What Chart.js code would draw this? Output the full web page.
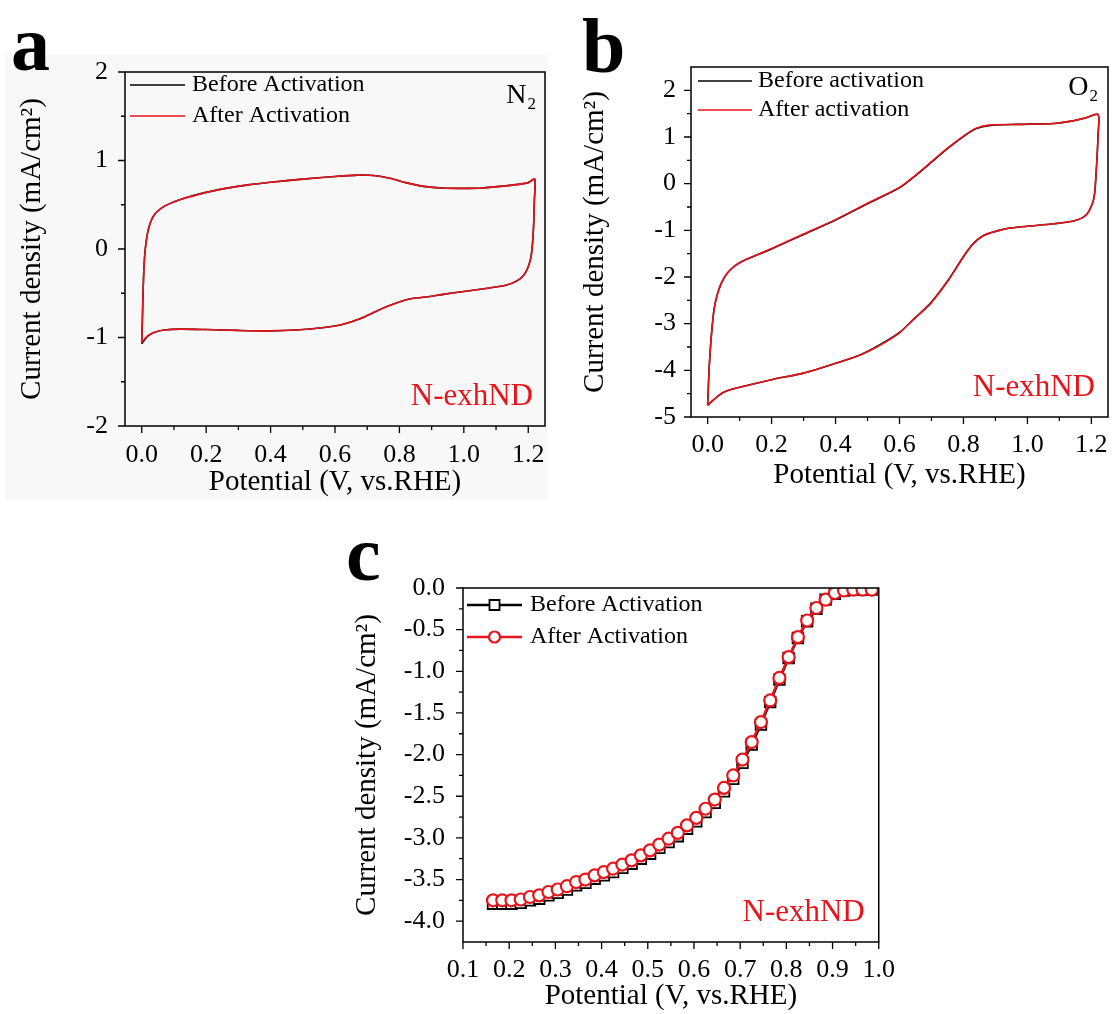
<!DOCTYPE html>
<html>
<head>
<meta charset="utf-8">
<script src="https://cdn.jsdelivr.net/npm/chart.js@4.4.1/dist/chart.umd.min.js"></script>
<style>
  body { margin: 0; background: #fff; }
  #page { position: relative; width: 1114px; height: 1014px; overflow: hidden; }
  canvas { position: absolute; }
  .tag { position: absolute; font: bold 78px 'Liberation Serif', 'Times New Roman', serif; line-height: 78px; color: #000; }
  #shadeA { position: absolute; left: 5px; top: 55px; width: 543px; height: 445px; background: #f8f8f8; }
</style>
</head>
<body>
<div id="page">
  <div id="shadeA"></div>
  <canvas id="cvN2" width="560" height="500" style="left:0;top:0"></canvas>
  <canvas id="cvO2" width="554" height="500" style="left:560px;top:0"></canvas>
  <canvas id="lsv" width="570" height="484" style="left:330px;top:530px"></canvas>
  <div class="tag" style="left:11px;top:5px">a</div>
  <div class="tag" style="left:582px;top:7px">b</div>
  <div class="tag" style="left:346px;top:515px">c</div>
</div>
<script>
// ---- panel a: CV in N2 ----
const cvN2Potential = [0.000, 0.002, 0.004, 0.007, 0.011, 0.018, 0.028, 0.042, 0.060, 0.085, 0.120, 0.160, 0.200, 0.260, 0.330, 0.400, 0.500, 0.600, 0.670, 0.720, 0.770, 0.820, 0.870, 0.930, 1.000, 1.060, 1.120, 1.170, 1.200, 1.220,
  1.219, 1.217, 1.214, 1.209, 1.200, 1.187, 1.165, 1.130, 1.080, 1.000, 0.940, 0.890, 0.830, 0.780, 0.730, 0.680, 0.620, 0.560, 0.480, 0.400, 0.300, 0.200, 0.120, 0.070, 0.040, 0.020, 0.008, 0.000];
const cvN2Before = [-1.07, -0.80, -0.50, -0.20, 0.00, 0.18, 0.31, 0.40, 0.46, 0.51, 0.56, 0.605, 0.64, 0.685, 0.725, 0.755, 0.79, 0.82, 0.835, 0.83, 0.80, 0.75, 0.71, 0.69, 0.685, 0.69, 0.71, 0.73, 0.75, 0.79,
  0.55, 0.30, 0.10, -0.08, -0.20, -0.29, -0.36, -0.41, -0.44, -0.48, -0.51, -0.54, -0.565, -0.625, -0.70, -0.785, -0.855, -0.89, -0.915, -0.925, -0.92, -0.91, -0.905, -0.915, -0.94, -0.98, -1.03, -1.07];
const cvN2After = [-1.06, -0.79, -0.50, -0.20, 0.00, 0.18, 0.31, 0.40, 0.46, 0.51, 0.56, 0.60, 0.64, 0.685, 0.725, 0.755, 0.79, 0.82, 0.835, 0.83, 0.80, 0.75, 0.71, 0.69, 0.685, 0.69, 0.71, 0.73, 0.75, 0.79,
  0.55, 0.30, 0.10, -0.08, -0.20, -0.29, -0.36, -0.41, -0.44, -0.48, -0.51, -0.54, -0.565, -0.625, -0.70, -0.785, -0.855, -0.89, -0.915, -0.925, -0.92, -0.91, -0.905, -0.915, -0.94, -0.98, -1.02, -1.06];
const cvN2XTicks = [0, 0.2, 0.4, 0.6, 0.8, 1.0, 1.2];
const cvN2XMinor = [0.1, 0.3, 0.5, 0.7, 0.9, 1.1];
const cvN2YTicks = [-2, -1, 0, 1, 2];
const cvN2YMinor = [-1.5, -0.5, 0.5, 1.5];

// ---- panel b: CV in O2 ----
const cvO2Potential = [0.000, 0.002, 0.005, 0.009, 0.013, 0.020, 0.030, 0.043, 0.060, 0.085, 0.115, 0.150, 0.200, 0.300, 0.400, 0.500, 0.600, 0.650, 0.700, 0.750, 0.800, 0.840, 0.885, 0.973, 1.083, 1.138, 1.182, 1.221,
  1.221, 1.216, 1.210, 1.203, 1.185, 1.150, 1.083, 0.973, 0.918, 0.863, 0.830, 0.800, 0.753, 0.697, 0.642, 0.598, 0.532, 0.477, 0.400, 0.300, 0.200, 0.091, 0.047, 0.014, 0.000];
const cvO2Before = [-4.75, -4.40, -3.92, -3.50, -3.15, -2.70, -2.38, -2.13, -1.93, -1.76, -1.64, -1.54, -1.40, -1.09, -0.78, -0.43, -0.09, 0.17, 0.46, 0.75, 1.01, 1.18, 1.25, 1.27, 1.29, 1.34, 1.41, 1.48,
  1.06, 0.35, -0.22, -0.43, -0.66, -0.79, -0.86, -0.93, -0.99, -1.11, -1.29, -1.56, -2.06, -2.56, -2.92, -3.20, -3.48, -3.67, -3.85, -4.06, -4.20, -4.38, -4.48, -4.66, -4.75];
const cvO2After = [-4.75, -4.40, -3.92, -3.50, -3.15, -2.70, -2.38, -2.13, -1.93, -1.76, -1.64, -1.54, -1.39, -1.08, -0.77, -0.42, -0.08, 0.18, 0.47, 0.76, 1.02, 1.19, 1.26, 1.27, 1.29, 1.34, 1.41, 1.485,
  1.06, 0.35, -0.22, -0.43, -0.66, -0.79, -0.86, -0.93, -0.99, -1.11, -1.29, -1.57, -2.07, -2.57, -2.92, -3.21, -3.49, -3.67, -3.85, -4.06, -4.20, -4.38, -4.48, -4.66, -4.75];
const cvO2XTicks = [0, 0.2, 0.4, 0.6, 0.8, 1.0, 1.2];
const cvO2XMinor = [0.1, 0.3, 0.5, 0.7, 0.9, 1.1];
const cvO2YTicks = [-5, -4, -3, -2, -1, 0, 1, 2];
const cvO2YMinor = [-4.5, -3.5, -2.5, -1.5, -0.5, 0.5, 1.5];

// ---- panel c: LSV ----
const lsvPotential = [0.155, 0.165, 0.185, 0.205, 0.225, 0.245, 0.265, 0.285, 0.305, 0.325, 0.345, 0.365, 0.385, 0.405, 0.425, 0.445, 0.465, 0.485, 0.505, 0.525, 0.545, 0.565, 0.585,
  0.605, 0.625, 0.645, 0.665, 0.685, 0.705, 0.725, 0.745, 0.765, 0.785, 0.805, 0.825, 0.845, 0.865, 0.885, 0.905, 0.925, 0.945, 0.965, 0.985, 1.000];
const lsvBefore = [-3.79, -3.79, -3.79, -3.79, -3.78, -3.75, -3.73, -3.69, -3.66, -3.62, -3.57, -3.54, -3.49, -3.45, -3.41, -3.36, -3.31, -3.25, -3.19, -3.12, -3.05, -2.98, -2.89,
  -2.80, -2.69, -2.58, -2.44, -2.29, -2.10, -1.88, -1.64, -1.37, -1.10, -0.84, -0.60, -0.40, -0.25, -0.14, -0.07, -0.03, -0.02, -0.02, -0.02, -0.01];
const lsvAfter = [-3.75, -3.75, -3.75, -3.75, -3.74, -3.71, -3.69, -3.65, -3.62, -3.58, -3.53, -3.50, -3.45, -3.41, -3.37, -3.32, -3.27, -3.21, -3.15, -3.08, -3.01, -2.94, -2.85,
  -2.76, -2.65, -2.54, -2.40, -2.25, -2.06, -1.85, -1.61, -1.35, -1.08, -0.83, -0.59, -0.39, -0.24, -0.14, -0.06, -0.03, -0.02, -0.02, -0.02, -0.01];
const lsvXTicks = [0.1, 0.2, 0.3, 0.4, 0.5, 0.6, 0.7, 0.8, 0.9, 1.0];
const lsvXMinor = [0.15, 0.25, 0.35, 0.45, 0.55, 0.65, 0.75, 0.85, 0.95];
const lsvYTicks = [0, -0.5, -1.0, -1.5, -2.0, -2.5, -3.0, -3.5, -4.0];
const lsvYMinor = [-0.25, -0.75, -1.25, -1.75, -2.25, -2.75, -3.25, -3.75];

const serif = "'Liberation Serif', 'Times New Roman', serif";
const RED = '#e8141c';
const xy = (xs, ys) => xs.map((x, i) => ({x: x, y: ys[i]}));

// frame, outward ticks, inside legend and labels
const decor = (c) => ({
  id: 'decor',
  afterDraw(chart) {
    const {ctx, chartArea: a, scales: {x, y}} = chart;
    ctx.save();
    ctx.strokeStyle = '#000';
    ctx.lineWidth = 1.5;
    ctx.strokeRect(a.left, a.top, a.right - a.left, a.bottom - a.top);
    ctx.lineWidth = 1.3;
    ctx.beginPath();
    const xt = (vals, len) => vals.forEach(v => { const p = x.getPixelForValue(v); ctx.moveTo(p, a.bottom); ctx.lineTo(p, a.bottom + len); });
    const yt = (vals, len) => vals.forEach(v => { const p = y.getPixelForValue(v); ctx.moveTo(a.left, p); ctx.lineTo(a.left - len, p); });
    xt(c.xTicks, 7); xt(c.xMinor, 4); yt(c.yTicks, 7); yt(c.yMinor, 4);
    ctx.stroke();

    // legend
    ctx.font = '24px ' + serif;
    ctx.textBaseline = 'middle';
    c.legend.forEach(item => {
      const ly = a.top + item.dy;
      ctx.strokeStyle = item.color;
      ctx.lineWidth = item.width;
      ctx.beginPath();
      ctx.moveTo(a.left + c.lx0, ly); ctx.lineTo(a.left + c.lx1, ly);
      ctx.stroke();
      if (item.marker) {
        const mx = a.left + (c.lx0 + c.lx1) / 2;
        ctx.fillStyle = '#fff';
        ctx.lineWidth = item.mw;
        ctx.beginPath();
        if (item.marker === 'circle') ctx.arc(mx, ly, 5.5, 0, Math.PI * 2);
        else ctx.rect(mx - 5, ly - 5, 10, 10);
        ctx.fill(); ctx.stroke();
      }
      ctx.fillStyle = '#000';
      ctx.textAlign = 'left';
      ctx.fillText(item.text, a.left + c.tx, ly);
    });

    // notes (gas / sample name)
    ctx.textBaseline = 'alphabetic';
    ctx.textAlign = 'left';
    c.notes.forEach(n => {
      ctx.font = n.size + 'px ' + serif;
      const w1 = ctx.measureText(n.text).width;
      let w2 = 0;
      if (n.sub) { ctx.font = Math.round(n.size * 0.62) + 'px ' + serif; w2 = ctx.measureText(n.sub).width; }
      const x0 = a.right - n.right - w1 - w2;
      const by = n.base > 0 ? a.top + n.base : a.bottom + n.base;
      ctx.fillStyle = n.color;
      ctx.font = n.size + 'px ' + serif;
      ctx.fillText(n.text, x0, by);
      if (n.sub) {
        ctx.font = Math.round(n.size * 0.62) + 'px ' + serif;
        ctx.fillText(n.sub, x0 + w1 + 1, by + 6);
      }
    });
    ctx.restore();
  }
});

const axes = (c) => ({
  x: {
    type: 'linear', position: 'bottom', min: c.xMin, max: c.xMax,
    afterBuildTicks: s => { s.ticks = c.xTicks.map(value => ({value})); },
    afterFit: s => { s.height = c.xHeight; },
    grid: {display: false}, border: {display: false},
    ticks: {font: {family: serif, size: 26}, color: '#000', padding: c.xPad, maxRotation: 0, autoSkip: false,
      callback: v => v.toFixed(1)},
    title: {display: true, text: 'Potential (V, vs.RHE)', color: '#000', font: {family: serif, size: 29},
      padding: {top: 0, bottom: c.xTitlePad}}
  },
  y: {
    type: 'linear', position: 'left', min: c.yMin, max: c.yMax,
    afterBuildTicks: s => { s.ticks = c.yTicks.map(value => ({value})); },
    afterFit: s => { s.width = c.yWidth; },
    grid: {display: false}, border: {display: false},
    ticks: {font: {family: serif, size: 26}, color: '#000', padding: c.yPad, autoSkip: false,
      callback: v => v.toFixed(c.yDec)},
    title: {display: true, text: 'Current density (mA/cm²)', color: '#000', font: {family: serif, size: 29},
      padding: {top: c.yTitlePad, bottom: 0}}
  }
});

const makeChart = (id, datasets, c) => new Chart(document.getElementById(id), {
  type: 'scatter',
  data: {datasets: datasets},
  options: {
    responsive: false, animation: false, devicePixelRatio: 1,
    layout: {padding: {left: 0, top: c.padTop, right: c.padRight, bottom: 0}},
    plugins: {legend: {display: false}, tooltip: {enabled: false}},
    scales: axes(c)
  },
  plugins: [decor(c)]
});

const cvLine = (label, pts, color, order) => ({
  label: label, data: pts, showLine: true, borderColor: color, borderWidth: 1.6,
  pointRadius: 0, tension: 0.25, order: order
});

makeChart('cvN2', [
  cvLine('Before Activation', xy(cvN2Potential, cvN2Before), '#000', 1),
  cvLine('After Activation', xy(cvN2Potential, cvN2After), RED, 0)
], {
  xMin: -0.052, xMax: 1.252, yMin: -2, yMax: 2,
  xTicks: cvN2XTicks, xMinor: cvN2XMinor, yTicks: cvN2YTicks, yMinor: cvN2YMinor, yDec: 0,
  padTop: 72, padRight: 15, xHeight: 74, yWidth: 125,
  xPad: 6, yPad: 9, xTitlePad: 0, yTitlePad: 15,
  lx0: 5, lx1: 60, tx: 67,
  legend: [
    {text: 'Before Activation', color: '#000', width: 1.6, dy: 13},
    {text: 'After Activation', color: RED, width: 1.6, dy: 44}
  ],
  notes: [
    {text: 'N', sub: '2', color: '#000', size: 28, right: 10, base: 31},
    {text: 'N-exhND', color: RED, size: 31, right: 12, base: -21}
  ]
});

makeChart('cvO2', [
  cvLine('Before activation', xy(cvO2Potential, cvO2Before), '#000', 1),
  cvLine('After activation', xy(cvO2Potential, cvO2After), RED, 0)
], {
  xMin: -0.052, xMax: 1.252, yMin: -5, yMax: 2.5,
  xTicks: cvO2XTicks, xMinor: cvO2XMinor, yTicks: cvO2YTicks, yMinor: cvO2YMinor, yDec: 0,
  padTop: 67, padRight: 6, xHeight: 83, yWidth: 131,
  xPad: 5, yPad: 7, xTitlePad: 7, yTitlePad: 18,
  lx0: 7, lx1: 61, tx: 67,
  legend: [
    {text: 'Before activation', color: '#000', width: 1.6, dy: 14},
    {text: 'After activation', color: RED, width: 1.6, dy: 43}
  ],
  notes: [
    {text: 'O', sub: '2', color: '#000', size: 28, right: 11, base: 28},
    {text: 'N-exhND', color: RED, size: 31, right: 13, base: -21}
  ]
});

const endless = (r) => (ctx) => (ctx.dataIndex === 0 || ctx.dataIndex === lsvPotential.length - 1) ? 0 : r;

makeChart('lsv', [
  {label: 'Before Activation', data: xy(lsvPotential, lsvBefore), showLine: true, borderColor: '#000', borderWidth: 2.5,
    pointStyle: 'rect', pointRadius: endless(7.5), pointBorderWidth: 1.8, pointBorderColor: '#000', pointBackgroundColor: '#fff',
    tension: 0, order: 1},
  {label: 'After Activation', data: xy(lsvPotential, lsvAfter), showLine: true, borderColor: RED, borderWidth: 2.5,
    pointStyle: 'circle', pointRadius: endless(6), pointBorderWidth: 2.2, pointBorderColor: RED, pointBackgroundColor: '#fff',
    tension: 0, order: 0}
], {
  xMin: 0.1, xMax: 1.0, yMin: -4.25, yMax: 0,
  xTicks: lsvXTicks, xMinor: lsvXMinor, yTicks: lsvYTicks, yMinor: lsvYMinor, yDec: 1,
  padTop: 58, padRight: 18, xHeight: 72, yWidth: 133,
  xPad: 5, yPad: 10, xTitlePad: 0, yTitlePad: 20,
  lx0: 4, lx1: 59, tx: 67,
  legend: [
    {text: 'Before Activation', color: '#000', width: 2.5, marker: 'rect', mw: 1.8, dy: 17},
    {text: 'After Activation', color: RED, width: 2.5, marker: 'circle', mw: 2.2, dy: 49}
  ],
  notes: [
    {text: 'N-exhND', color: RED, size: 31, right: 14, base: -21}
  ]
});
</script>
</body>
</html>
